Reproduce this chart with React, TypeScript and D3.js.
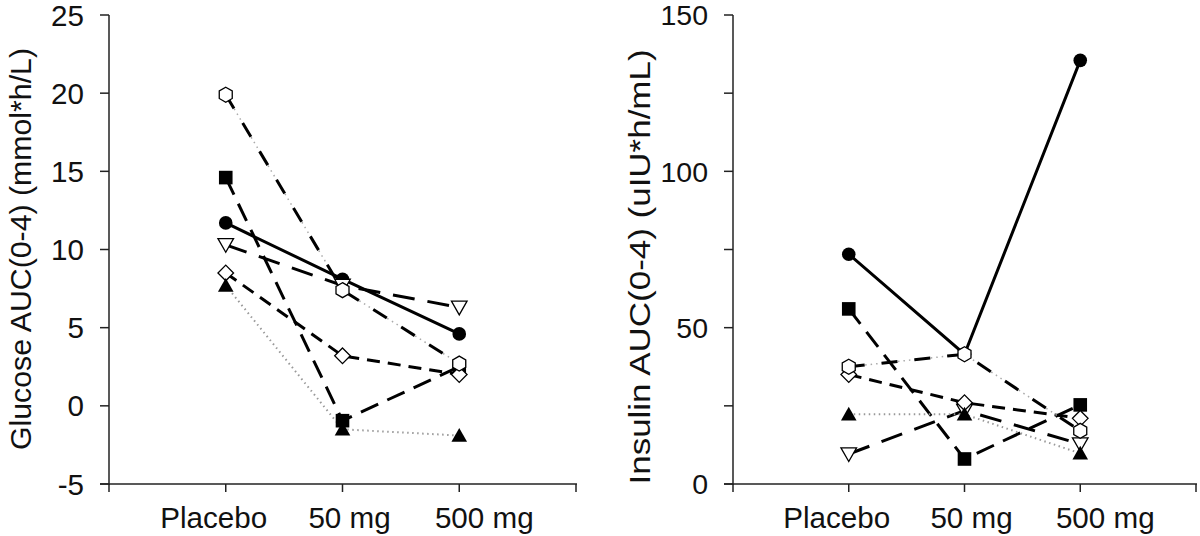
import React from "react";
import * as d3 from "d3";

const categories = ["Placebo", "50 mg", "500 mg"];

// Glucose AUC(0-4) (mmol*h/L)
const glucoseCircle = [11.7, 8.1, 4.6];
const glucoseSquare = [14.6, -0.95, 2.5];
const glucoseTriDown = [10.3, 7.7, 6.3];
const glucoseHexagon = [19.9, 7.4, 2.7];
const glucoseDiamond = [8.5, 3.2, 2.0];
const glucoseTriUp = [7.7, -1.5, -1.9];

// Insulin AUC(0-4) (uIU*h/mL)
const insulinCircle = [73.5, 41.5, 135.5];
const insulinSquare = [56, 8, 25.3];
const insulinTriDown = [9.6, 23.5, 12.8];
const insulinHexagon = [37.5, 41.5, 17];
const insulinDiamond = [35, 26, 21];
const insulinTriUp = [22.3, 22.3, 9.8];

const glucoseTicks = [-5, 0, 5, 10, 15, 20, 25];
const insulinTicks = [0, 25, 50, 75, 100, 125, 150];
const insulinLabeled = [0, 50, 100, 150];

const FONT = "'Liberation Sans', Arial, Helvetica, sans-serif";

type Style = {
  marker: string;
  dash: string | null;
  color: string;
  width: number;
  dots?: boolean;
};

const markerOrder = ["circle", "square", "triDown", "diamond", "hexagon", "triUp"];

const styles: Record<string, Style> = {
  circle: { marker: "circle", dash: null, color: "#000", width: 3 },
  square: { marker: "square", dash: "19 10", color: "#000", width: 3 },
  triDown: { marker: "triDown", dash: "22 13", color: "#000", width: 3 },
  hexagon: { marker: "hexagon", dash: "16 17", color: "#000", width: 3, dots: true },
  diamond: { marker: "diamond", dash: "13 8", color: "#000", width: 3 },
  triUp: { marker: "triUp", dash: "1.5 3.5", color: "#999", width: 2 },
};

function Marker({ type, x, y }: { type: string; x: number; y: number }) {
  const s = 7.5;
  switch (type) {
    case "circle":
      return <circle cx={x} cy={y} r={6.8} fill="#000" />;
    case "square":
      return <rect x={x - 6.8} y={y - 6.8} width={13.6} height={13.6} fill="#000" />;
    case "triUp":
      return (
        <path
          d={`M${x},${y - 7.5}L${x + 7.8},${y + 6.2}L${x - 7.8},${y + 6.2}Z`}
          fill="#000"
        />
      );
    case "triDown":
      return (
        <path
          d={`M${x - 7.8},${y - 6.2}L${x + 7.8},${y - 6.2}L${x},${y + 7.5}Z`}
          fill="#fff"
          stroke="#000"
          strokeWidth={1.3}
        />
      );
    case "diamond":
      return (
        <path
          d={`M${x},${y - 7.8}L${x + 7.8},${y}L${x},${y + 7.8}L${x - 7.8},${y}Z`}
          fill="#fff"
          stroke="#000"
          strokeWidth={1.3}
        />
      );
    case "hexagon": {
      const pts = d3.range(6).map((i) => {
        const a = (Math.PI / 3) * i - Math.PI / 2;
        return [x + s * Math.cos(a), y + s * Math.sin(a)];
      });
      return (
        <path
          d={"M" + pts.map((p) => p.join(",")).join("L") + "Z"}
          fill="#fff"
          stroke="#000"
          strokeWidth={1.3}
        />
      );
    }
  }
  return null;
}

type PanelProps = {
  x0: number;
  x1: number;
  yScale: d3.ScaleLinear<number, number>;
  ticks: number[];
  labeled: number[];
  tickFont: number;
  title: string;
  titleX: number;
  titleY: number;
  titleLen: number;
  titleFont: number;
  data: Record<string, number[]>;
};

const labelOffsets = [-12, 7, 25];

function Panel({
  x0,
  x1,
  yScale,
  ticks,
  labeled,
  tickFont,
  title,
  titleX,
  titleY,
  titleLen,
  titleFont,
  data,
}: PanelProps) {
  const x = d3.scaleLinear().domain([0, 4]).range([x0, x1]);
  const [yBottom, yTop] = yScale.range();
  const line = d3
    .line<number>()
    .x((_, i) => x(i + 1))
    .y((d) => yScale(d));
  const axisColor = "#222";
  return (
    <g>
      {markerOrder.map((k) => {
        const st = styles[k];
        return (
          <g key={k}>
            {st.dots && (
              <path
                d={line(data[k]) || ""}
                fill="none"
                stroke="#aaa"
                strokeWidth={1.5}
                strokeDasharray="1.5 4"
              />
            )}
            <path
              d={line(data[k]) || ""}
              fill="none"
              stroke={st.color}
              strokeWidth={st.width}
              strokeDasharray={st.dash || undefined}
            />
          </g>
        );
      })}
      {markerOrder.map((k) =>
        data[k].map((v, i) => (
          <Marker key={k + i} type={styles[k].marker} x={x(i + 1)} y={yScale(v)} />
        ))
      )}
      <line x1={x0} x2={x0} y1={yTop} y2={yBottom + 1} stroke={axisColor} strokeWidth={1.5} />
      {ticks.map((t) => (
        <line key={t} x1={x0 - 9} x2={x0} y1={yScale(t)} y2={yScale(t)} stroke={axisColor} strokeWidth={1.5} />
      ))}
      {labeled.map((t) => (
        <text
          key={t}
          x={x0 - 25}
          y={yScale(t)}
          dy="0.36em"
          textAnchor="end"
          fontFamily={FONT}
          fontSize={tickFont}
          fill="#111"
        >
          {t}
        </text>
      ))}
      <line x1={x0 - 9} x2={x1 + 1} y1={yBottom} y2={yBottom} stroke={axisColor} strokeWidth={1.5} />
      {d3.range(5).map((i) => (
        <line key={i} x1={x(i)} x2={x(i)} y1={yBottom} y2={yBottom + 8} stroke={axisColor} strokeWidth={1.5} />
      ))}
      {categories.map((c, i) => (
        <text
          key={c}
          x={x(i + 1) + labelOffsets[i]}
          y={528}
          textAnchor="middle"
          fontFamily={FONT}
          fontSize={29.6}
          fill="#111"
        >
          {c}
        </text>
      ))}
      <text
        transform={`translate(${titleX},${titleY}) rotate(-90)`}
        textAnchor="middle"
        textLength={titleLen}
        lengthAdjust="spacingAndGlyphs"
        fontFamily={FONT}
        fontSize={titleFont}
        fill="#111"
      >
        {title}
      </text>
    </g>
  );
}

export default function App() {
  const yL = d3.scaleLinear().domain([-5, 25]).range([484, 15]);
  const yR = d3.scaleLinear().domain([0, 150]).range([484, 15]);
  return (
    <svg
      width={1200}
      height={536}
      style={{ position: "absolute", left: 0, top: 0, background: "#fff" }}
    >
      <rect width={1200} height={536} fill="#fff" />
      <Panel
        x0={109}
        x1={576}
        yScale={yL}
        ticks={glucoseTicks}
        labeled={glucoseTicks}
        tickFont={29.6}
        title="Glucose AUC(0-4) (mmol*h/L)"
        titleX={31}
        titleY={249}
        titleLen={402}
        titleFont={29}
        data={{
          circle: glucoseCircle,
          square: glucoseSquare,
          triDown: glucoseTriDown,
          hexagon: glucoseHexagon,
          diamond: glucoseDiamond,
          triUp: glucoseTriUp,
        }}
      />
      <Panel
        x0={733}
        x1={1196}
        yScale={yR}
        ticks={insulinTicks}
        labeled={insulinLabeled}
        tickFont={28.5}
        title="Insulin AUC(0-4) (uIU*h/mL)"
        titleX={650}
        titleY={267}
        titleLen={435}
        titleFont={29}
        data={{
          circle: insulinCircle,
          square: insulinSquare,
          triDown: insulinTriDown,
          hexagon: insulinHexagon,
          diamond: insulinDiamond,
          triUp: insulinTriUp,
        }}
      />
    </svg>
  );
}
